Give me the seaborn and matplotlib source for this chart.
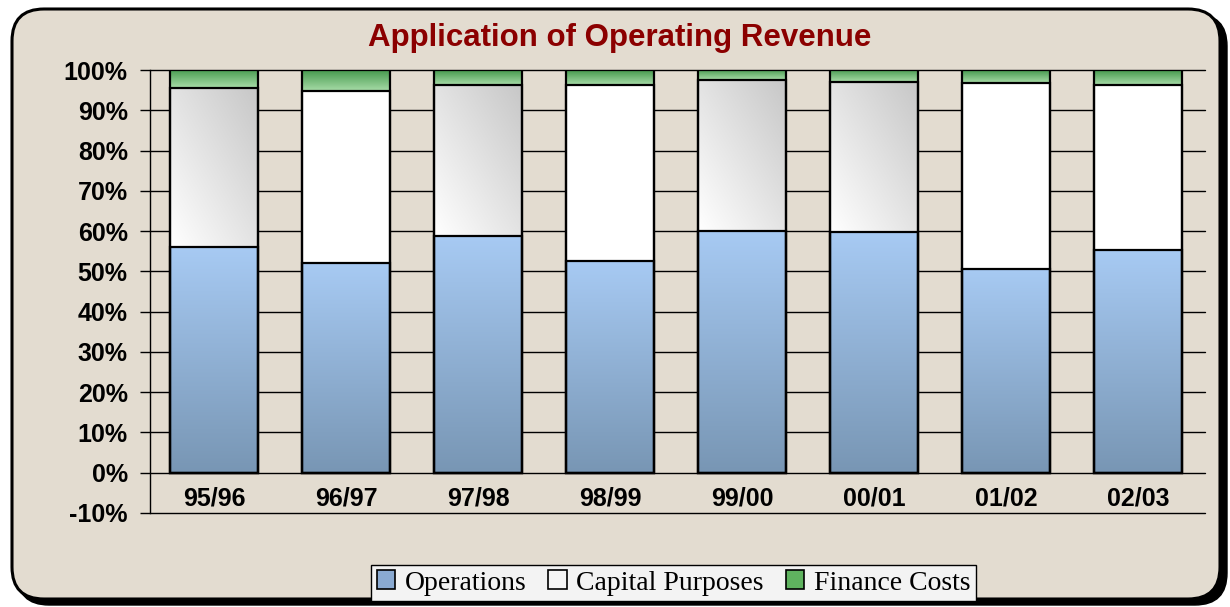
import numpy as np
import pandas as pd
import matplotlib
matplotlib.use("Agg")
import matplotlib.pyplot as plt
import seaborn as sns
from matplotlib.patches import FancyBboxPatch, Rectangle
from matplotlib.transforms import IdentityTransform
from matplotlib.ticker import FuncFormatter

# ---------------- data ----------------
years = ["95/96", "96/97", "97/98", "98/99", "99/00", "00/01", "01/02", "02/03"]
operations = [56.0, 52.0, 58.7, 52.5, 60.0, 59.7, 50.7, 55.2]
capital_purposes = [39.5, 42.8, 37.6, 43.8, 37.5, 37.3, 46.1, 41.1]
finance_costs = [4.5, 5.2, 3.7, 3.7, 2.5, 3.0, 3.2, 3.7]
y_ticks = list(range(-10, 101, 10))
series_names = ["Operations", "Capital Purposes", "Finance Costs"]
title = "Application of Operating Revenue"

# style: which capital-purpose segments are rendered with grey shading
capital_shaded = [True, False, True, False, True, True, False, False]

sns.set_theme(style="white")
plt.rcParams["font.family"] = ["Liberation Sans", "DejaVu Sans"]

df = pd.DataFrame({"year": years, "ops": operations,
                   "cap": capital_purposes, "fin": finance_costs})
df["ops_cap"] = df["ops"] + df["cap"]
df["total"] = df["ops_cap"] + df["fin"]

W, H = 1230, 607
fig = plt.figure(figsize=(W / 100, H / 100), dpi=100, facecolor="white")

# rounded background panel with shadow (pixel coordinates)
shadow = FancyBboxPatch((17, 2), 1210, 591, boxstyle="round,pad=0,rounding_size=32",
                        transform=IdentityTransform(), facecolor="black",
                        edgecolor="black", zorder=0)
panel = FancyBboxPatch((12, 8), 1208, 590, boxstyle="round,pad=0,rounding_size=32",
                       transform=IdentityTransform(), facecolor="#e3dcd0",
                       edgecolor="black", linewidth=2.2, zorder=0.5)
fig.add_artist(shadow)
fig.add_artist(panel)

ax = fig.add_axes([150 / W, 1 - 513 / H, (1205 - 150) / W, (513 - 70) / H])
ax.set_zorder(2)
ax.set_facecolor("none")

green = "#6cbf6c"
blue = "#8fb0d8"
for col, color in [("total", green), ("ops_cap", "white"), ("ops", blue)]:
    sns.barplot(data=df, x="year", y=col, order=years, color=color,
                width=0.667, edgecolor="black", linewidth=1.6, saturation=1,
                errorbar=None, ax=ax, zorder=2)

# gradient fills
def vgrad(top, bottom, n=128):
    top = np.array(matplotlib.colors.to_rgb(top))
    bottom = np.array(matplotlib.colors.to_rgb(bottom))
    t = np.linspace(0, 1, n)[:, None]
    return (top * (1 - t) + bottom * t)[:, None, :].repeat(2, axis=1)

ops_img = vgrad("#a7caf3", "#7896b4")
fin_img = vgrad("#469a4e", "#a8dca8")
gx = np.linspace(0, 1, 64)[None, :]
gy = np.linspace(0, 1, 64)[:, None]
shade = np.clip(0.78 + 0.11 * (1 - gx) + 0.11 * gy, 0, 1)  # darker top-right
cap_shade_img = np.dstack([shade, shade, shade])
cap_white_img = np.ones((2, 2, 3))

tot_c, oc_c, ops_c = ax.containers[0], ax.containers[1], ax.containers[2]
for i, (pt, poc, pop) in enumerate(zip(tot_c, oc_c, ops_c)):
    x0, w = pop.get_x(), pop.get_width()
    h_ops, h_oc, h_tot = pop.get_height(), poc.get_height(), pt.get_height()
    ax.imshow(ops_img, extent=(x0, x0 + w, 0, h_ops), aspect="auto",
              interpolation="bilinear", zorder=2.5, origin="upper")
    ax.imshow(cap_shade_img if capital_shaded[i] else cap_white_img,
              extent=(x0, x0 + w, h_ops, h_oc), aspect="auto",
              interpolation="bilinear", zorder=2.5, origin="upper")
    ax.imshow(fin_img, extent=(x0, x0 + w, h_oc, h_tot), aspect="auto",
              interpolation="bilinear", zorder=2.5, origin="upper")
for p in list(tot_c) + list(oc_c) + list(ops_c):
    p.set_facecolor("none")
    p.set_zorder(3)

ax.set_xlim(-0.485, 7.508)
ax.set_ylim(-10, 100)
ax.set_yticks(y_ticks)
ax.yaxis.set_major_formatter(FuncFormatter(lambda v, _: f"{int(v)}%"))
ax.yaxis.grid(True, color="black", linewidth=1.0)
ax.xaxis.grid(False)
ax.set_axisbelow(True)
for line in ax.get_ygridlines():
    line.set_clip_on(False)
for s in ["top", "right", "bottom"]:
    ax.spines[s].set_visible(False)
ax.spines["left"].set_color("black")
ax.spines["left"].set_linewidth(1.0)
ax.set_xlabel("")
ax.set_ylabel("")
ax.tick_params(axis="y", left=True, length=7.5, width=1, color="black",
               labelsize=18, pad=8.5, labelcolor="black")
ax.tick_params(axis="x", bottom=False, length=0, labelsize=18, pad=-19,
               labelcolor="black")
for lab in ax.get_yticklabels() + ax.get_xticklabels():
    lab.set_fontweight("bold")

fig.text(620 / W, 1 - 38 / H, title, ha="center", va="center",
         fontsize=22.5, fontweight="bold", color="#8b0000")

handles = [Rectangle((0, 0), 1, 1, facecolor="#8aaad2", edgecolor="black", lw=1.2),
           Rectangle((0, 0), 1, 1, facecolor="#f4f4f4", edgecolor="black", lw=1.2),
           Rectangle((0, 0), 1, 1, facecolor="#5fb35f", edgecolor="black", lw=1.2)]
leg = fig.legend(handles, series_names, loc="center",
                 bbox_to_anchor=(673.5 / W, 1 - 583 / H), ncol=3,
                 frameon=True, fancybox=False, edgecolor="black",
                 facecolor="#f3f3f3", framealpha=1, labelcolor="black",
                 prop={"family": "Liberation Serif", "size": 20},
                 handlelength=0.65, handleheight=0.65, handletextpad=0.35,
                 columnspacing=0.8, borderpad=0.2, borderaxespad=0)
leg.get_frame().set_linewidth(1.0)

fig.savefig("out.png", dpi=100, facecolor="white")
